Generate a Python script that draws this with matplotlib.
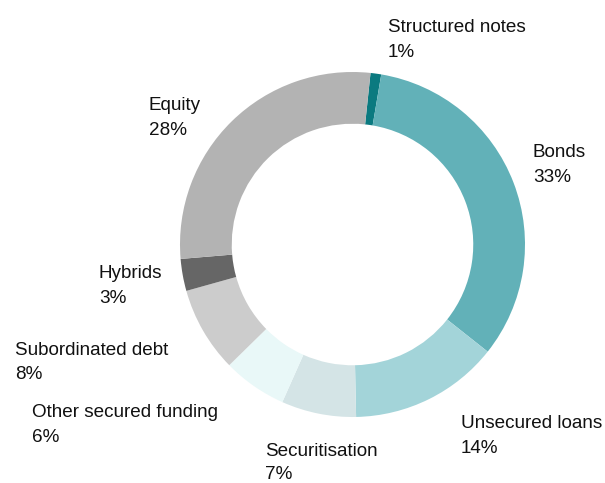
import matplotlib
matplotlib.use("Agg")
import matplotlib.pyplot as plt

categories = ["Structured notes", "Bonds", "Unsecured loans", "Securitisation",
              "Other secured funding", "Subordinated debt", "Hybrids", "Equity"]
values = [1, 33, 14, 7, 6, 8, 3, 28]
colors = ["#0b7a80", "#62b1b8", "#a3d4d9", "#d4e4e6",
          "#e9f8f8", "#cccccc", "#666666", "#b3b3b3"]

# label layout: (left x px, name baseline px, percent baseline px)
label_pos = [(388, 32, 57), (533, 157, 182), (461, 428, 453), (265, 456, 479),
             (32, 417, 442), (15, 355, 379), (99, 278, 303), (149, 110, 135)]

W, H = 605, 483
plt.rcParams['font.family'] = ['Liberation Sans', 'DejaVu Sans']
fig = plt.figure(figsize=(W / 100, H / 100), dpi=100)
ax = fig.add_axes([0, 0, 1, 1])

cx, cy, R = 352.5, H - 244.5, 172.5
ax.pie(values, colors=colors, startangle=84, counterclock=False,
       center=(cx, cy), radius=R, frame=True,
       wedgeprops=dict(width=R * 0.30, linewidth=0, antialiased=True))
ax.set_xlim(0, W)
ax.set_ylim(0, H)
ax.set_aspect('equal')
ax.axis('off')

for name, v, (x, b1, b2) in zip(categories, values, label_pos):
    ax.text(x, H - b1, name, fontsize=13.6, color="#111111", va='baseline', ha='left')
    ax.text(x, H - b2, f"{v}%", fontsize=13.6, color="#111111", va='baseline', ha='left')

fig.savefig("out.png", dpi=100)
